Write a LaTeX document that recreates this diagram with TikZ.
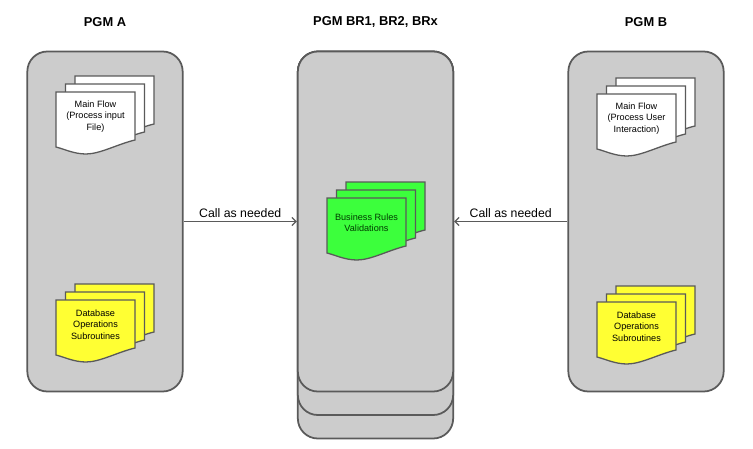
\documentclass[tikz,border=0pt]{standalone}
\usepackage{fontspec}
\setmainfont{Liberation Sans}
\usepackage{tikz}
\definecolor{pgmgray}{RGB}{204,204,204}
\definecolor{edgegray}{RGB}{90,90,90}
\definecolor{docyellow}{RGB}{255,255,51}
\definecolor{docgreen}{RGB}{60,255,60}
\definecolor{textgreen}{RGB}{0,60,0}
\usetikzlibrary{arrows.meta, positioning}

% stack of three sheets: name, top-left of front sheet, fill, text colour, text
\newcommand{\docstack}[5]{%
  \begin{scope}[shift={#2}]
    \foreach \d in {2,1,0}
      \filldraw[docsheet, fill=#3, shift={(9.5*\d,-8*\d)}] (0,0) -- (79,0) -- (79,48)
        .. controls (62,52) and (44,62) .. (30,62)
        .. controls (18,62) and (8,57) .. (0,55) -- cycle;
    \node[doctext, text=#4] (#1) at (39.5,24.5) {#5};
  \end{scope}}

\begin{document}
\begin{tikzpicture}[
    x=0.03cm, y=-0.03cm,
    pgm/.style={rectangle, draw=edgegray, fill=pgmgray, line width=1.5pt,
                rounded corners=0.6cm, minimum width=4.66cm, minimum height=10.2cm,
                inner sep=0pt},
    pgmtitle/.style={font=\fontsize{11}{13}\selectfont\bfseries},
    docsheet/.style={draw=edgegray, line width=1.1pt},
    doctext/.style={align=center, inner sep=0pt, font=\fontsize{7.8}{9.6}\selectfont},
    call/.style={draw=edgegray, line width=1.1pt, -{Straight Barb[length=3.5pt, width=7pt]}},
    calllabel/.style={above, inner sep=3pt, font=\fontsize{10.5}{12}\selectfont}
]
    \useasboundingbox (0,0) rectangle (753,449);

    \node[pgm] (pgma) at (105,221.5) {};
    \node[pgm, minimum height=11.61cm] (mid3) at (375.5,245) {};
    \node[pgm, minimum height=10.905cm] (mid2) at (375.5,233.25) {};
    \node[pgm] (mid) at (375.5,221.5) {};
    \node[pgm] (pgmb) at (646,221.5) {};

    \node[pgmtitle] (titlea) at (105,22) {PGM A};
    \node[pgmtitle] (titlemid) at (375.5,22) {PGM BR1, BR2, BRx};
    \node[pgmtitle] (titleb) at (646,22) {PGM B};

    \docstack{mainA}{(56,92)}{white}{black}{Main Flow\\(Process input\\File)}
    \docstack{dbA}{(56,300)}{docyellow}{black}{Database\\Operations\\Subroutines}
    \docstack{rules}{(327,198)}{docgreen}{textgreen}{Business Rules\\Validations}
    \docstack{mainB}{(597,94)}{white}{black}{Main Flow\\(Process User\\Interaction)}
    \docstack{dbB}{(597,302)}{docyellow}{black}{Database\\Operations\\Subroutines}

    \draw[call] (pgma.east) -- node[calllabel] (calla) {Call as needed} (mid.west);
    \draw[call] (pgmb.west) -- node[calllabel] (callb) {Call as needed} (mid.east);
\end{tikzpicture}
\end{document}
